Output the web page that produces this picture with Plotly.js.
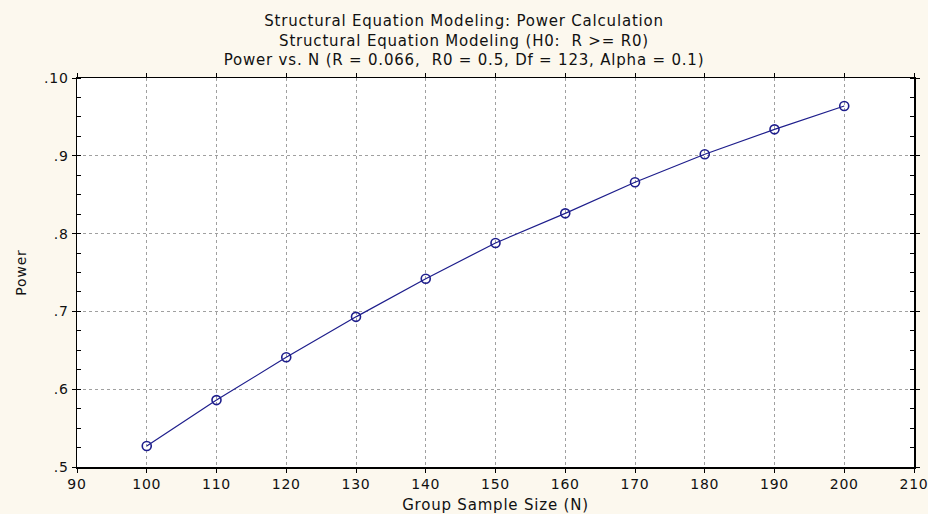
<!DOCTYPE html>
<html>
<head>
<meta charset="utf-8">
<script src="https://cdn.plot.ly/plotly-3.0.1.min.js"></script>
<style>
html,body{margin:0;padding:0;background:#fcf8ee;}
#chart{width:928px;height:514px;}
#chart .main-svg text{letter-spacing:0.8px;}
</style>
</head>
<body>
<div id="chart"></div>
<script>
const sampleSize = [100, 110, 120, 130, 140, 150, 160, 170, 180, 190, 200];
const power = [0.527, 0.586, 0.641, 0.693, 0.742, 0.788, 0.826, 0.866, 0.902, 0.934, 0.964];
const xTicks = [90, 100, 110, 120, 130, 140, 150, 160, 170, 180, 190, 200, 210];
const yTickVals = [0.5, 0.6, 0.7, 0.8, 0.9, 1.0];
const yTickText = ['.5', '.6', '.7', '.8', '.9', '.10'];

const navy = '#1e1e8c';
const trace = {
  x: sampleSize, y: power, type: 'scatter', mode: 'lines+markers',
  line: {color: navy, width: 1.2},
  marker: {symbol: 'circle-open', size: 9, color: navy, line: {width: 1.6, color: navy}},
  hoverinfo: 'x+y'
};
const fam = 'DejaVu Sans, Verdana, sans-serif';
const tickFont = {family: fam, size: 14, color: '#111'};
const titleFont = {family: fam, size: 15, color: '#111'};
const layout = {
  width: 928, height: 514,
  paper_bgcolor: '#fcf8ee', plot_bgcolor: '#ffffff',
  margin: {l: 77, r: 14, t: 78, b: 47},
  font: tickFont,
  showlegend: false,
  title: {
    text: 'Structural Equation Modeling: Power Calculation<br>Structural Equation Modeling (H0:  R >= R0)<br>Power vs. N (R = 0.066,  R0 = 0.5, Df = 123, Alpha = 0.1)',
    x: 0.5, xref: 'container', y: 0.949, yref: 'container', yanchor: 'top',
    font: titleFont
  },
  xaxis: {
    range: [90, 210], tickvals: xTicks, ticktext: xTicks.map(String),
    showgrid: true, gridcolor: '#a0a0a0', griddash: 'dot', gridwidth: 1,
    zeroline: false, showline: true, linecolor: '#000', linewidth: 1.5, mirror: 'ticks',
    ticks: 'outside', ticklen: 4, tickcolor: '#000', tickfont: tickFont,
    title: {text: 'Group Sample Size (N)', standoff: 10, font: titleFont}
  },
  yaxis: {
    range: [0.5, 1.0], tickvals: yTickVals, ticktext: yTickText,
    showgrid: true, gridcolor: '#a0a0a0', griddash: 'dot', gridwidth: 1,
    zeroline: false, showline: true, linecolor: '#000', linewidth: 1.5, mirror: 'ticks',
    ticks: 'outside', ticklen: 4, tickcolor: '#000', tickfont: tickFont,
    minor: {dtick: 0.025, tick0: 0.5, ticks: 'inside', ticklen: 4, tickcolor: '#000', showgrid: false},
    title: {text: 'Power', standoff: 16, font: {family: fam, size: 14, color: '#111'}}
  }
};
Plotly.newPlot('chart', [trace], layout, {displayModeBar: false, staticPlot: true});
</script>
</body>
</html>
